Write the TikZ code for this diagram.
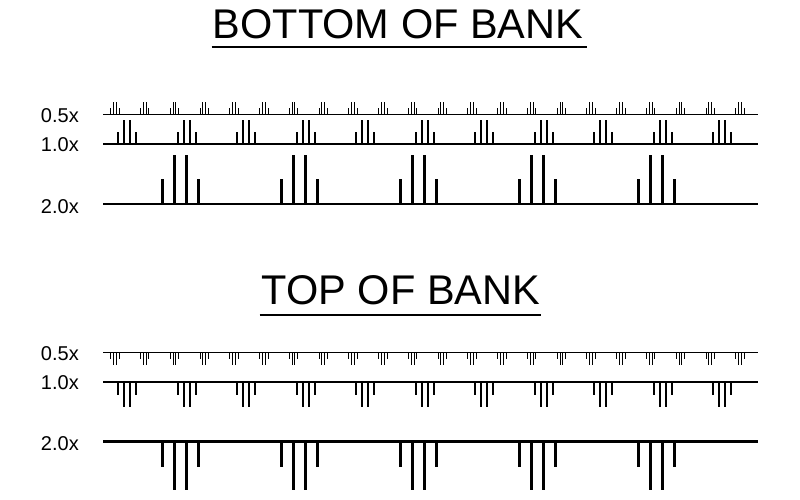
\documentclass[tikz,border=0pt]{standalone}
\usepackage{fontspec}
\setmainfont{Liberation Sans}
\usetikzlibrary{calc}

\begin{document}
\begin{tikzpicture}[
x=1pt, y=-1pt,
banktitle/.style={font=\fontsize{41.5}{41.5}\selectfont, inner sep=0pt, anchor=base},
scalelabel/.style={font=\fontsize{20}{20}\selectfont, inner sep=0pt, anchor=east},
underline/.style={line width=2.3pt},
halfline/.style={line width=1.2pt},
halfbar/.style={line width=1pt},
oneline/.style={line width=2pt},
onebar/.style={line width=2pt},
twoline/.style={line width=2.8pt},
twobar/.style={line width=2.7pt}
]
\useasboundingbox (0,0) rectangle (800,500);

% titles
\node[banktitle] (bottomtitle) at (398,38.3) {BOTTOM OF BANK};
\draw[underline] ($(bottomtitle.base west)+(-1,9)$) -- ($(bottomtitle.base east)+(4,9)$);
\node[banktitle] (toptitle) at (401,304.3) {TOP OF BANK};
\draw[underline] ($(toptitle.base west)+(-2,10.7)$) -- ($(toptitle.base east)+(1,10.7)$);

% scale labels
\node[scalelabel] (bhalf) at (79,115.3) {0.5x};
\node[scalelabel] (bone) at (79,144.7) {1.0x};
\node[scalelabel] (btwo) at (79,206.3) {2.0x};
\node[scalelabel] (thalf) at (79,353.3) {0.5x};
\node[scalelabel] (tone) at (79,382.2) {1.0x};
\node[scalelabel] (ttwo) at (79,443.5) {2.0x};

% 0.5x rows (s=-1 up, s=1 down)
\foreach \yb/\s in {114.3/-1,352.7/1}{
  \draw[halfline] (103,\yb) -- (758,\yb);
  \foreach \i in {0,...,21}
    \draw[halfbar] ({115+29.76*\i-4.2},\yb) -- ++(0,\s*6)
                   ({115+29.76*\i-1.4},\yb) -- ++(0,\s*12)
                   ({115+29.76*\i+1.4},\yb) -- ++(0,\s*12)
                   ({115+29.76*\i+4.2},\yb) -- ++(0,\s*6);
}

% 1.0x rows
\foreach \yb/\s in {144.3/-1,382.3/1}{
  \draw[oneline] (103,\yb) -- (758,\yb);
  \foreach \i in {0,...,10}
    \draw[onebar] ({127+59.5*\i-9},\yb) -- ++(0,\s*12.2)
                  ({127+59.5*\i-3},\yb) -- ++(0,\s*24.2)
                  ({127+59.5*\i+3},\yb) -- ++(0,\s*24.2)
                  ({127+59.5*\i+9},\yb) -- ++(0,\s*12.2);
}

% 2.0x rows
\foreach \yb/\s in {204/-1,441.7/1}{
  \draw[twoline] (103,\yb) -- (758,\yb);
  \foreach \i in {0,...,4}
    \draw[twobar] ({180.6+119.05*\i-18},\yb) -- ++(0,\s*24.8)
                  ({180.6+119.05*\i-6},\yb) -- ++(0,\s*48.7)
                  ({180.6+119.05*\i+6},\yb) -- ++(0,\s*48.7)
                  ({180.6+119.05*\i+18},\yb) -- ++(0,\s*24.8);
}
\end{tikzpicture}
\end{document}
